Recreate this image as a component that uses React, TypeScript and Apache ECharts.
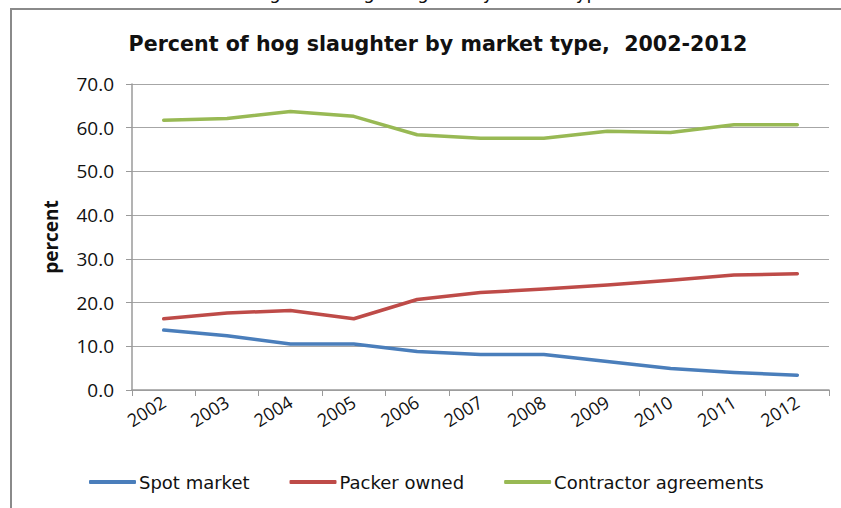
import React, { useEffect, useRef } from "react";
import * as echarts from "echarts";

const years = ["2002", "2003", "2004", "2005", "2006", "2007", "2008", "2009", "2010", "2011", "2012"];
const spotMarket = [13.7, 12.4, 10.5, 10.5, 8.8, 8.1, 8.1, 6.5, 4.9, 4.0, 3.4];
const packerOwned = [16.3, 17.6, 18.2, 16.3, 20.7, 22.3, 23.1, 24.0, 25.1, 26.3, 26.6];
const contractorAgreements = [61.7, 62.1, 63.7, 62.6, 58.4, 57.6, 57.6, 59.2, 58.9, 60.7, 60.7];

const FONT = "'Open Sans', 'DejaVu Sans', sans-serif";
const WIDE = "'DejaVu Sans', 'Open Sans', sans-serif";

export default function App() {
  const ref = useRef<HTMLDivElement>(null);

  useEffect(() => {
    if (!ref.current) return;
    const chart = echarts.init(ref.current, null, { renderer: "svg" });
    const lineSeries = (name: string, data: number[], color: string) => ({
      name,
      type: "line",
      data,
      showSymbol: false,
      symbol: "none",
      lineStyle: { color, width: 3.5, cap: "round", join: "round" },
      itemStyle: { color },
    });
    chart.setOption({
      animation: false,
      backgroundColor: "#ffffff",
      textStyle: { fontFamily: FONT },
      title: {
        text: "Percent of hog slaughter by market type,  2002-2012",
        left: 433,
        textAlign: "center",
        top: 28,
        textStyle: { fontFamily: WIDE, fontWeight: "bold", fontSize: 20.6, color: "#111" },
      },
      graphic: [
        {
          type: "rect",
          shape: { x: 11, y: 9, width: 900, height: 600 },
          style: { fill: "none", stroke: "#8a8a8a", lineWidth: 2 },
          silent: true,
        },
        {
          type: "text",
          x: 432,
          y: -8,
          style: {
            text: "Figure 1. Hog slaughter by market type",
            font: `18px ${WIDE}`,
            fill: "#111",
            align: "center",
            verticalAlign: "middle",
          },
          silent: true,
        },
      ],
      legend: {
        left: 84,
        top: 468,
        icon: "roundRect",
        itemWidth: 47,
        itemHeight: 4,
        itemGap: 40,
        textStyle: { fontFamily: WIDE, fontSize: 18, color: "#111", padding: [0, 0, 0, -2] },
        data: ["Spot market", "Packer owned", "Contractor agreements"],
      },
      grid: { left: 132, top: 84, right: 12, bottom: 118, containLabel: false },
      xAxis: {
        type: "category",
        data: years,
        boundaryGap: true,
        axisLine: { lineStyle: { color: "#9a9a9a", width: 1.5 } },
        axisTick: { show: true, alignWithLabel: false, length: 6, lineStyle: { color: "#9a9a9a" } },
        axisLabel: { rotate: 32, fontSize: 18, color: "#111", margin: 10, fontFamily: FONT },
      },
      yAxis: {
        type: "value",
        min: 0,
        max: 70,
        interval: 10,
        name: "percent",
        nameLocation: "middle",
        nameGap: 72,
        nameTextStyle: { fontFamily: FONT, fontWeight: "bold", fontSize: 19, color: "#111" },
        axisLine: { show: true, lineStyle: { color: "#9a9a9a", width: 1.5 } },
        axisTick: { show: true, length: 6, lineStyle: { color: "#9a9a9a" } },
        axisLabel: {
          fontSize: 19,
          color: "#111",
          margin: 18,
          fontFamily: FONT,
          formatter: (v: number) => v.toFixed(1),
        },
        splitLine: { lineStyle: { color: "#a6a6a6", width: 1.2 } },
      },
      series: [
        lineSeries("Spot market", spotMarket, "#4a7ebb"),
        lineSeries("Packer owned", packerOwned, "#be4b48"),
        lineSeries("Contractor agreements", contractorAgreements, "#98b954"),
      ],
    });
    return () => chart.dispose();
  }, []);

  return (
    <div
      ref={ref}
      style={{ position: "fixed", left: 0, top: 0, width: 841, height: 508 }}
    />
  );
}
